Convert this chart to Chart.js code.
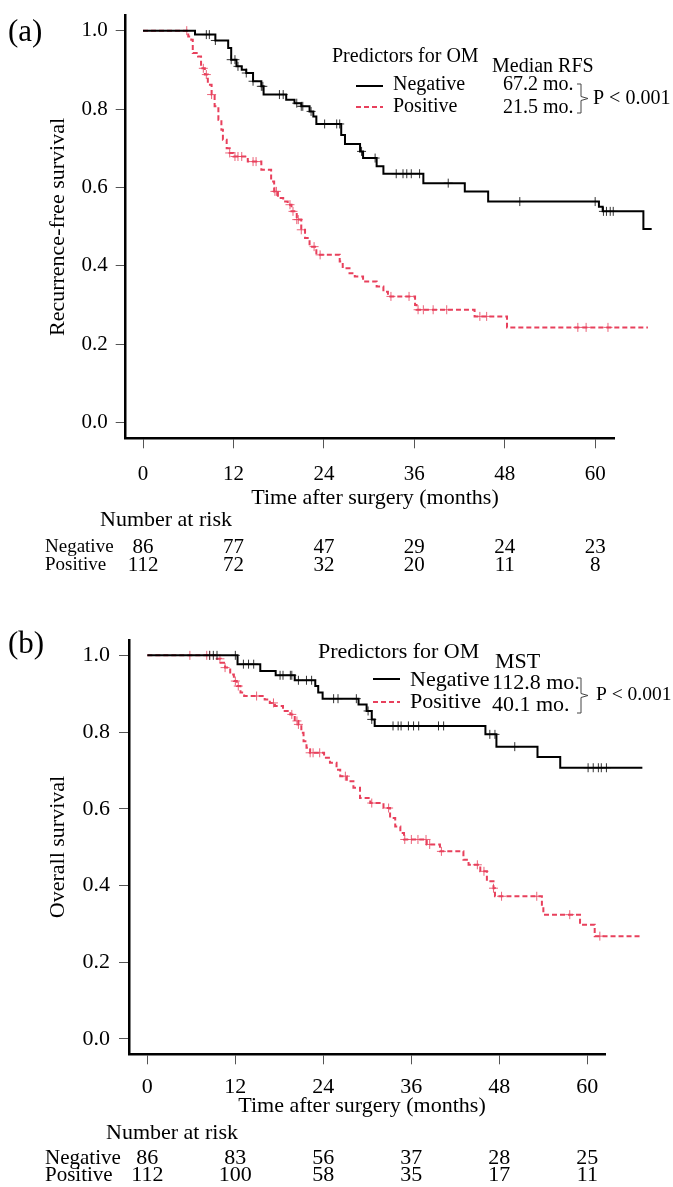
<!DOCTYPE html>
<html>
<head>
<meta charset="utf-8">
<script src="https://cdn.jsdelivr.net/npm/chart.js@4.4.1/dist/chart.umd.min.js"></script>
<style>
  html, body { margin: 0; padding: 0; background: #fff; }
  #wrap { position: relative; width: 673px; height: 1187px; }
  canvas { position: absolute; left: 0; }
  #chartA { top: 0; }
  #chartB { top: 595px; }
</style>
</head>
<body>
<div id="wrap">
  <canvas id="chartA" width="673" height="595"></canvas>
  <canvas id="chartB" width="673" height="592"></canvas>
</div>
<script>
// ---- data ----
const xTicks = [0, 12, 24, 36, 48, 60];
const yTicks = [0, 0.2, 0.4, 0.6, 0.8, 1.0];
const groups = ['Negative', 'Positive'];
const legendTitle = 'Predictors for OM';
const xTitle = 'Time after surgery (months)';
const riskTitle = 'Number at risk';
const pText = 'P < 0.001';

// (a) recurrence-free survival
const rfsNegTime = [0, 6.9, 9.6, 11.3, 11.7, 12.4, 13.1, 13.7, 14.6, 15.7, 16.0, 19.0, 20.1, 21.0, 22.1, 22.6, 23.0, 26.3, 26.8, 28.8, 29.2, 31.0, 31.9, 37.2, 42.7, 45.8, 60.5, 61.0, 66.4, 67.5];
const rfsNegSurv = [1, 0.990, 0.975, 0.956, 0.926, 0.909, 0.900, 0.892, 0.871, 0.858, 0.837, 0.824, 0.815, 0.807, 0.794, 0.781, 0.762, 0.734, 0.711, 0.692, 0.675, 0.654, 0.635, 0.611, 0.590, 0.564, 0.551, 0.539, 0.494, 0.494];
const rfsNegCens = [8.4, 8.8, 9.6, 11.7, 12.2, 12.6, 13.7, 14.6, 15.7, 15.9, 18.1, 18.6, 20.4, 21.0, 21.2, 22.3, 24.1, 25.7, 26.1, 29.0, 30.8, 33.6, 34.5, 35.0, 35.6, 36.7, 40.5, 50.0, 60.0, 61.1, 61.5, 62.0, 62.4, 64.2, 64.6, 65.0, 65.7];

const rfsPosTime = [0, 6.0, 6.4, 6.6, 7.3, 7.7, 8.2, 8.6, 9.1, 9.5, 10.0, 10.4, 10.6, 11.1, 11.5, 12.0, 13.9, 15.7, 17.0, 17.4, 17.9, 18.6, 19.2, 19.7, 20.4, 21.0, 21.5, 22.1, 23.0, 26.1, 26.5, 27.4, 28.1, 29.2, 31.0, 31.9, 32.5, 36.1, 36.3, 44.0, 48.3, 67.0];
const rfsPosSurv = [1, 0.985, 0.977, 0.943, 0.934, 0.904, 0.888, 0.862, 0.837, 0.807, 0.773, 0.747, 0.722, 0.700, 0.688, 0.679, 0.666, 0.645, 0.615, 0.590, 0.573, 0.564, 0.556, 0.539, 0.518, 0.492, 0.471, 0.449, 0.428, 0.411, 0.394, 0.381, 0.373, 0.360, 0.347, 0.334, 0.322, 0.300, 0.288, 0.271, 0.243, 0.243];
const rfsPosCens = [5.8, 8.0, 8.4, 9.1, 11.5, 12.2, 12.6, 13.1, 14.6, 15.0, 17.5, 17.7, 19.5, 19.9, 20.4, 20.6, 21.0, 22.7, 23.5, 32.9, 35.3, 36.5, 37.2, 38.5, 40.3, 44.7, 45.6, 57.7, 58.8, 61.7, 65.5, 66.2];

const rfsRiskNeg = [86, 77, 47, 29, 24, 23];
const rfsRiskPos = [112, 72, 32, 20, 11, 8];
const rfsMedians = ['67.2 mo.', '21.5 mo.'];

// (b) overall survival
const osNegTime = [0, 12.3, 15.4, 17.5, 20.1, 22.9, 23.3, 23.9, 28.8, 29.9, 30.6, 31.0, 46.1, 47.6, 53.2, 56.3, 67.5];
const osNegSurv = [1, 0.977, 0.959, 0.948, 0.935, 0.920, 0.903, 0.887, 0.872, 0.855, 0.833, 0.816, 0.794, 0.762, 0.735, 0.707, 0.707];
const osNegCens = [8.5, 9.0, 9.5, 12.0, 13.1, 13.8, 14.5, 18.1, 18.5, 19.5, 19.7, 20.6, 21.7, 22.4, 25.4, 26.0, 28.5, 30.1, 30.6, 33.5, 34.2, 34.6, 35.6, 36.3, 37.0, 39.7, 40.4, 46.7, 47.4, 50.1, 60.1, 60.8, 61.5, 61.9, 62.6, 64.4, 65.1, 65.6];

const osPosTime = [0, 9.5, 10.0, 10.6, 11.3, 11.8, 12.2, 12.7, 13.2, 16.0, 16.7, 17.4, 18.5, 19.5, 20.1, 20.6, 21.0, 21.3, 21.7, 22.2, 24.1, 24.9, 25.8, 26.3, 27.2, 28.1, 29.0, 30.4, 32.2, 33.1, 33.8, 34.5, 35.0, 38.1, 39.9, 43.1, 43.8, 45.4, 46.3, 47.2, 47.4, 53.8, 54.0, 59.0, 61.0, 67.2];
const osPosSurv = [1, 0.991, 0.981, 0.968, 0.950, 0.933, 0.920, 0.903, 0.894, 0.885, 0.876, 0.868, 0.855, 0.846, 0.829, 0.820, 0.798, 0.776, 0.759, 0.746, 0.733, 0.720, 0.702, 0.685, 0.672, 0.655, 0.628, 0.615, 0.602, 0.576, 0.554, 0.537, 0.520, 0.507, 0.489, 0.467, 0.454, 0.437, 0.411, 0.393, 0.372, 0.346, 0.324, 0.298, 0.268, 0.268];
const osPosCens = [5.8, 8.1, 8.5, 9.9, 10.6, 12.0, 12.4, 14.9, 17.2, 19.7, 20.4, 20.6, 22.2, 22.6, 23.5, 27.0, 30.6, 32.9, 35.1, 36.0, 36.9, 38.0, 38.5, 40.1, 45.0, 45.9, 47.2, 48.3, 53.1, 57.6, 61.7, 65.6, 66.3];

const osRiskNeg = [86, 83, 56, 37, 28, 25];
const osRiskPos = [112, 100, 58, 35, 17, 11];
const osMedians = ['112.8 mo.', '40.1 mo.'];

// ---- styling ----
const SERIF = '"Liberation Serif", "Times New Roman", serif';
const BLACK = '#000000';
const RED = '#e8405c';
const RED_MARK = 'rgba(232, 70, 96, 0.85)';

// survival value of a step curve at time t
function stepAt(time, surv, t) {
  let v = surv[0];
  for (let i = 0; i < time.length; i++) {
    if (time[i] <= t) v = surv[i];
  }
  return v;
}

// draws panel letter, axis titles, legend, medians and the risk table
const kmText = {
  id: 'kmText',
  afterDraw(chart, args, o) {
    const ctx = chart.ctx;
    const xs = chart.scales.x;
    const text = (str, px, py, size, align) => {
      ctx.font = size + 'px ' + SERIF;
      ctx.textAlign = align || 'left';
      ctx.fillText(str, px, py);
    };
    ctx.save();
    ctx.fillStyle = '#000';
    ctx.textBaseline = 'middle';

    text(o.panel, o.panelPos[0], o.panelPos[1], o.panelSize);

    ctx.save();
    ctx.translate(o.yTitlePos[0], o.yTitlePos[1]);
    ctx.rotate(-Math.PI / 2);
    text(o.yTitle, 0, 0, o.titleSize, 'center');
    ctx.restore();

    text(xTitle, o.xTitlePos[0], o.xTitlePos[1], o.titleSize, 'center');

    // legend
    const lg = o.legend;
    text(legendTitle, lg.titleX, lg.titleY, lg.size);
    text(o.statTitle, lg.statX, lg.statY, lg.size);
    groups.forEach((g, i) => {
      ctx.save();
      ctx.strokeStyle = i === 0 ? BLACK : RED;
      ctx.lineWidth = 2;
      ctx.setLineDash(i === 0 ? [] : [5, 3]);
      ctx.beginPath();
      ctx.moveTo(lg.lineX[0], lg.lineY[i]);
      ctx.lineTo(lg.lineX[1], lg.lineY[i]);
      ctx.stroke();
      ctx.restore();
      text(g, lg.nameX, lg.nameY[i], lg.size);
      text(o.medians[i], lg.medX, lg.medY[i], lg.size);
    });

    // bracket
    const b = lg.bracket;
    const mid = (b.y0 + b.y1) / 2;
    ctx.save();
    ctx.strokeStyle = '#444';
    ctx.lineWidth = 1;
    ctx.beginPath();
    ctx.moveTo(b.x0, b.y0);
    ctx.lineTo(b.x0 + 4, b.y0);
    ctx.lineTo(b.x0 + 4, mid - 2);
    ctx.lineTo(b.x1, mid);
    ctx.lineTo(b.x0 + 4, mid + 2);
    ctx.lineTo(b.x0 + 4, b.y1);
    ctx.lineTo(b.x0, b.y1);
    ctx.stroke();
    ctx.restore();
    text(pText, lg.pX, lg.pY, lg.pSize);

    // number at risk
    const rk = o.risk;
    text(riskTitle, rk.titleX, rk.titleY, rk.titleSize);
    [rk.neg, rk.pos].forEach((row, i) => {
      text(groups[i], rk.labelX, rk.rowY[i], rk.labelSize);
      row.forEach((n, j) => {
        text(String(n), xs.getPixelForValue(xTicks[j]), rk.rowY[i], rk.numSize, 'center');
      });
    });
    ctx.restore();
  }
};

function makeChart(p) {
  const a = p.area;
  const datasets = [];
  p.curves.forEach(cv => {
    datasets.push({
      data: cv.time.map((t, i) => ({ x: t, y: cv.surv[i] })),
      stepped: 'before',
      borderColor: cv.color,
      borderWidth: 2,
      borderDash: cv.dash,
      pointRadius: 0,
      fill: false,
      clip: false
    });
    datasets.push({
      data: cv.cens.map(t => ({ x: t, y: stepAt(cv.time, cv.surv, t) })),
      showLine: false,
      pointStyle: 'cross',
      pointRadius: 4.5,
      pointBorderColor: cv.markColor,
      pointBorderWidth: 1,
      clip: false
    });
  });

  const tickFont = { family: SERIF, size: p.tickSize };

  return new Chart(document.getElementById(p.canvas), {
    type: 'line',
    data: { datasets },
    options: {
      responsive: false,
      animation: false,
      events: [],
      layout: { padding: { left: 0, top: a.top, right: 673 - a.right, bottom: 0 } },
      plugins: {
        legend: { display: false },
        tooltip: { enabled: false },
        kmText: p.text
      },
      scales: {
        x: {
          type: 'linear',
          bounds: 'data',
          afterDataLimits: s => { s.min = p.xMin; s.max = p.xMax; },
          afterBuildTicks: s => { s.ticks = xTicks.map(v => ({ value: v })); },
          afterFit: s => { s.height = p.h - a.bottom; s.paddingLeft = 0; s.paddingRight = 0; },
          border: { color: '#000', width: 2.5 },
          grid: { drawOnChartArea: false, drawTicks: true, tickLength: 10, color: '#555', lineWidth: 1 },
          ticks: { autoSkip: false, maxRotation: 0, padding: p.xPad, color: '#000', font: tickFont }
        },
        y: {
          min: -0.04,
          max: 1.04,
          bounds: 'data',
          afterBuildTicks: s => { s.ticks = yTicks.map(v => ({ value: v })); },
          afterFit: s => { s.width = a.left; s.paddingTop = 0; s.paddingBottom = 0; },
          border: { color: '#000', width: 2.5 },
          grid: { drawOnChartArea: false, drawTicks: true, tickLength: 10, color: '#555', lineWidth: 1 },
          ticks: { padding: p.yPad, color: '#000', font: tickFont, callback: v => Number(v).toFixed(1) }
        }
      }
    },
    plugins: [kmText]
  });
}

makeChart({
  canvas: 'chartA', h: 595,
  area: { left: 125.7, top: 15, right: 614, bottom: 438.3 },
  xMin: -2.3, xMax: 62.5, tickSize: 21, xPad: 14, yPad: 8,
  curves: [
    { time: rfsNegTime, surv: rfsNegSurv, cens: rfsNegCens, color: BLACK, dash: [], markColor: '#333' },
    { time: rfsPosTime, surv: rfsPosSurv, cens: rfsPosCens, color: RED, dash: [5, 3], markColor: RED_MARK }
  ],
  text: {
    panel: '(a)', panelPos: [8, 33], panelSize: 31,
    yTitle: 'Recurrence-free survival', yTitlePos: [58, 227], titleSize: 22,
    xTitlePos: [375, 498],
    statTitle: 'Median RFS', medians: rfsMedians,
    legend: {
      size: 20, titleX: 332, titleY: 57, statX: 492, statY: 67,
      lineX: [356, 383], lineY: [86, 107], nameX: 393, nameY: [85, 107],
      medX: 503, medY: [85, 108],
      bracket: { x0: 577, x1: 588, y0: 84, y1: 113 },
      pX: 593, pY: 99, pSize: 20
    },
    risk: {
      titleX: 100, titleY: 520, titleSize: 22,
      labelX: 45, labelSize: 19, numSize: 21, rowY: [547, 565],
      neg: rfsRiskNeg, pos: rfsRiskPos
    }
  }
});

makeChart({
  canvas: 'chartB', h: 592,
  area: { left: 129, top: 45, right: 605.7, bottom: 459.3 },
  xMin: -2.5, xMax: 62.5, tickSize: 22, xPad: 10, yPad: 9,
  curves: [
    { time: osNegTime, surv: osNegSurv, cens: osNegCens, color: BLACK, dash: [], markColor: '#333' },
    { time: osPosTime, surv: osPosSurv, cens: osPosCens, color: RED, dash: [5, 3], markColor: RED_MARK }
  ],
  text: {
    panel: '(b)', panelPos: [8, 50], panelSize: 31,
    yTitle: 'Overall survival', yTitlePos: [58, 252], titleSize: 22,
    xTitlePos: [362, 511],
    statTitle: 'MST', medians: osMedians,
    legend: {
      size: 22, titleX: 318, titleY: 57, statX: 495, statY: 67,
      lineX: [373, 400], lineY: [84, 107], nameX: 410, nameY: [85, 107],
      medX: 492, medY: [88, 110],
      bracket: { x0: 577, x1: 588, y0: 83, y1: 118 },
      pX: 596, pY: 100, pSize: 19.5
    },
    risk: {
      titleX: 106, titleY: 538, titleSize: 22,
      labelX: 45, labelSize: 21, numSize: 22, rowY: [563, 580],
      neg: osRiskNeg, pos: osRiskPos
    }
  }
});
</script>
</body>
</html>
